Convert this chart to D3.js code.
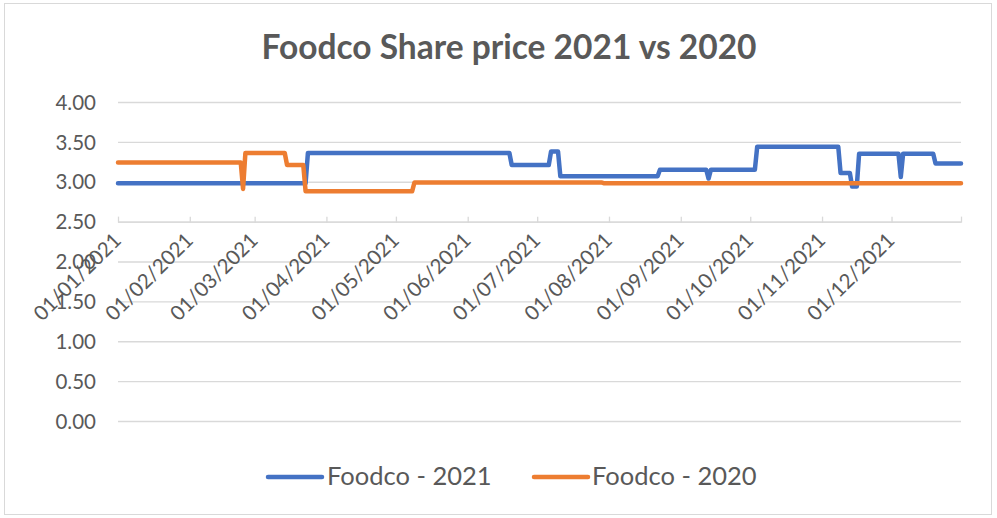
<!DOCTYPE html>
<html>
<head>
<meta charset="utf-8">
<script src="https://cdn.jsdelivr.net/npm/d3@7"></script>
<style>
  html, body { margin: 0; padding: 0; background: #ffffff; }
  svg { display: block; }
  text { font-family: Lato, "Open Sans", sans-serif; fill: #595959; }
</style>
</head>
<body>
<svg id="chart" width="997" height="518"></svg>
<script>
// ---- data ----
const chartTitle = "Foodco Share price 2021 vs 2020";
const seriesNames = ["Foodco - 2021", "Foodco - 2020"];
const seriesColors = ["#4472C4", "#ED7D31"];

// Foodco - 2021 (read at change points)
const dates2021 = ["2021-01-01","2021-03-23","2021-03-24","2021-06-19","2021-06-20","2021-07-06","2021-07-07","2021-07-10","2021-07-11","2021-08-22","2021-08-23","2021-09-12","2021-09-13","2021-09-14","2021-10-03","2021-10-04","2021-11-08","2021-11-09","2021-11-13","2021-11-14","2021-11-16","2021-11-17","2021-12-04","2021-12-05","2021-12-06","2021-12-19","2021-12-20","2021-12-31"];
const values2021 = [2.98, 2.98, 3.36, 3.36, 3.21, 3.21, 3.38, 3.38, 3.07, 3.07, 3.15, 3.15, 3.04, 3.15, 3.15, 3.44, 3.44, 3.11, 3.11, 2.94, 2.94, 3.35, 3.35, 3.06, 3.35, 3.35, 3.23, 3.23];

// Foodco - 2020 (read at change points)
const dates2020 = ["2021-01-01","2021-02-23","2021-02-24","2021-02-25","2021-03-14","2021-03-15","2021-03-22","2021-03-23","2021-05-08","2021-05-09","2021-07-29","2021-07-30","2021-12-31"];
const values2020 = [3.24, 3.24, 2.91, 3.36, 3.36, 3.21, 3.21, 2.88, 2.88, 2.99, 2.99, 2.98, 2.98];

const yTicks = [0, 0.5, 1, 1.5, 2, 2.5, 3, 3.5, 4];
const xTickDates = ["2021-01-01","2021-02-01","2021-03-01","2021-04-01","2021-05-01","2021-06-01","2021-07-01","2021-08-01","2021-09-01","2021-10-01","2021-11-01","2021-12-01"];
const xDomain = ["2021-01-01", "2021-12-31"];
const axisCrossValue = 2.5;

// ---- drawing ----
const parse = d3.timeParse("%Y-%m-%d");
const fmt = d3.timeFormat("%d/%m/%Y");
const svg = d3.select("#chart");

const plot = { left: 118, right: 961, top: 102, bottom: 421 };
const x = d3.scaleTime().domain(xDomain.map(parse)).range([plot.left, plot.right]);
const y = d3.scaleLinear().domain([0, 4]).range([plot.bottom, plot.top]);

// outer border
svg.append("rect").attr("x", 4.5).attr("y", 3.5).attr("width", 987).attr("height", 511)
  .attr("fill", "#fff").attr("stroke", "#D9D9D9").attr("stroke-width", 1);

// title
svg.append("text").attr("x", 509).attr("y", 59).attr("text-anchor", "middle")
  .style("font-size", "33.5px").style("font-weight", "bold").text(chartTitle);

// y axis with gridlines
const yAxis = svg.append("g").attr("transform", `translate(${plot.left},0)`)
  .call(d3.axisLeft(y).tickValues(yTicks).tickFormat(d3.format(".2f"))
    .tickSize(-(plot.right - plot.left)).tickPadding(22));
yAxis.select(".domain").remove();
yAxis.selectAll(".tick line").attr("stroke", "#D9D9D9").attr("stroke-width", 1.3);
yAxis.selectAll(".tick text").style("font-size", "20.5px").attr("fill", "#595959").attr("dy", "0.35em");

// x axis at the crossing value
const xAxisG = svg.append("g").attr("transform", `translate(0,${y(axisCrossValue)})`)
  .call(d3.axisBottom(x).tickValues(xTickDates.map(parse).concat([parse(xDomain[1])]))
    .tickFormat((d, i) => i < xTickDates.length ? fmt(d) : "").tickSize(-6).tickSizeOuter(0));
xAxisG.select(".domain").attr("stroke", "#D9D9D9").attr("stroke-width", 1.3);
xAxisG.selectAll(".tick line").attr("stroke", "#D9D9D9").attr("stroke-width", 1.3).attr("y2", -5).attr("y1", 1);
xAxisG.selectAll(".tick text")
  .style("font-size", "20.5px").attr("fill", "#595959")
  .attr("text-anchor", "end").attr("y", 0).attr("dy", 0)
  .attr("transform", "translate(4,20) rotate(-45)");

// lines
const line = d3.line().x(d => x(d[0])).y(d => y(d[1]));
const series = [
  dates2021.map((d, i) => [parse(d), values2021[i]]),
  dates2020.map((d, i) => [parse(d), values2020[i]])
];
series.forEach((s, i) => {
  svg.append("path").datum(s).attr("d", line).attr("fill", "none")
    .attr("stroke", seriesColors[i]).attr("stroke-width", 4.5)
    .attr("stroke-linejoin", "round").attr("stroke-linecap", "round");
});

// legend
const legendItems = [{ x0: 268, tx: 327 }, { x0: 534, tx: 592 }];
legendItems.forEach((it, i) => {
  svg.append("line").attr("x1", it.x0).attr("x2", it.x0 + 54).attr("y1", 477).attr("y2", 477)
    .attr("stroke", seriesColors[i]).attr("stroke-width", 4.5).attr("stroke-linecap", "round");
  svg.append("text").attr("x", it.tx).attr("y", 485).style("font-size", "25.5px").text(seriesNames[i]);
});
</script>
</body>
</html>
